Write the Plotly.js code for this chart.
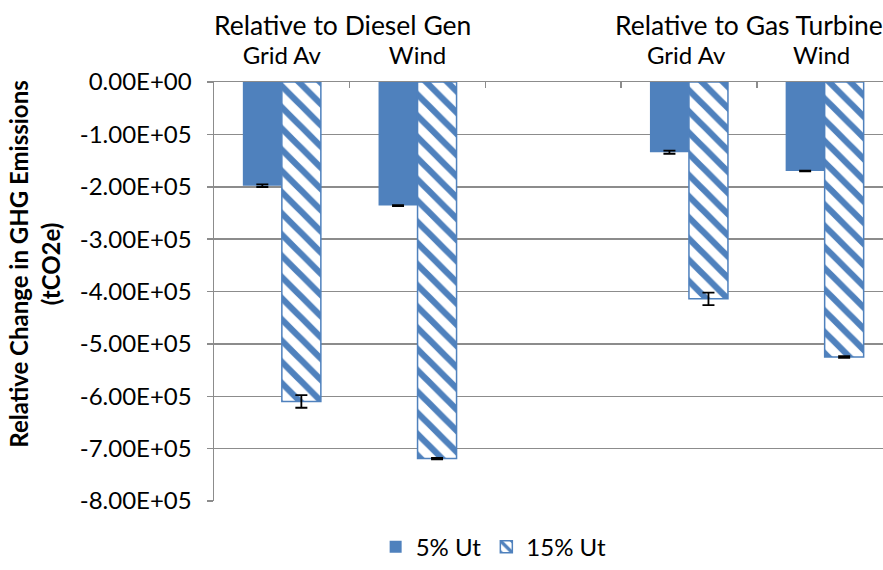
<!DOCTYPE html>
<html>
<head>
<meta charset="utf-8">
<script src="https://cdn.plot.ly/plotly-3.0.1.min.js"></script>
<style>html,body{margin:0;padding:0;background:#fff;}#chart{width:883px;height:570px;}</style>
</head>
<body>
<div id="chart"></div>
<script>
// Categories (trailing spaces keep repeated labels distinct; " " is the empty gap slot)
const categories = ["Grid Av", "Wind", " ", "Grid Av ", "Wind "];
const groupLabels = ["Relative to Diesel Gen", "Relative to Gas Turbine"];
const groupCenters = [0.445, 3.445];

const ut5 = [-198000, -236000, null, -134000, -170000];
const ut5Err = [2500, 800, null, 3000, 800];
const ut15 = [-610000, -719000, null, -414000, -525000];
const ut15Err = [12000, 1500, null, 12000, 1500];

const seriesNames = ["5% Ut", "15% Ut"];
const yTitle = "<b>Relative Change in GHG Emissions</b><br><b>(tCO2e)</b>";

const yTickVals = [0, -100000, -200000, -300000, -400000, -500000, -600000, -700000, -800000];
const yTickText = ["0.00E+00", "-1.00E+05", "-2.00E+05", "-3.00E+05", "-4.00E+05", "-5.00E+05", "-6.00E+05", "-7.00E+05", "-8.00E+05"];

const BLUE = "#4F81BD";
const GRID = "#8C8C8C";
const FONT = "Lato, Carlito, Calibri, sans-serif";

const traces = [
  {
    type: "bar", name: seriesNames[0], x: categories, y: ut5,
    marker: { color: BLUE, line: { color: BLUE, width: 0 } },
    error_y: { type: "data", array: ut5Err, visible: true, color: "#000", thickness: 1.8, width: 6 }
  },
  {
    type: "bar", name: seriesNames[1], x: categories, y: ut15,
    marker: {
      color: "#ffffff",
      line: { color: BLUE, width: 1.5 },
      pattern: { shape: "\\", fgcolor: BLUE, bgcolor: "#ffffff", fgopacity: 1, size: 15, solidity: 0.42, fillmode: "replace" }
    },
    error_y: { type: "data", array: ut15Err, visible: true, color: "#000", thickness: 1.8, width: 6 }
  }
];

const annotations = groupLabels.map((t, i) => ({
  text: t, x: groupCenters[i], xref: "x", y: 1.137, yref: "paper",
  xanchor: "center", yanchor: "middle", showarrow: false,
  font: { family: FONT, size: 26.5, color: "#000" }
}));
annotations.push({
  text: yTitle, textangle: -90, x: -0.269, xref: "paper", y: 0.564, yref: "paper",
  xanchor: "center", yanchor: "middle", showarrow: false,
  font: { family: FONT, size: 24, color: "#000" }
});

const layout = {
  width: 883, height: 570,
  margin: { l: 214, r: 0, t: 82, b: 61 },
  paper_bgcolor: "#fff", plot_bgcolor: "#fff",
  font: { family: FONT, size: 24, color: "#000" },
  barmode: "group", bargap: 0.425, bargroupgap: 0,
  showlegend: true,
  legend: {
    orientation: "h", x: 0.418, xanchor: "center", y: -0.11, yanchor: "middle",
    font: { family: FONT, size: 24, color: "#000" }, traceorder: "normal"
  },
  xaxis: {
    type: "category", side: "top", categoryorder: "array", categoryarray: categories,
    range: [-0.5, 4.43], fixedrange: true,
    showgrid: false, zeroline: false,
    showline: true, linecolor: GRID, linewidth: 1.5,
    ticks: "inside", tickson: "boundaries", ticklen: 6, tickcolor: GRID, tickwidth: 1.5,
    ticklabelstandoff: 7,
    tickfont: { family: FONT, size: 24, color: "#000" }
  },
  yaxis: {
    range: [-800000, 0], fixedrange: true,
    tickmode: "array", tickvals: yTickVals, ticktext: yTickText,
    showgrid: true, gridcolor: GRID, gridwidth: 1.5,
    zeroline: false, showline: true, linecolor: GRID, linewidth: 1.5,
    ticks: "outside", ticklen: 6, tickcolor: GRID, tickwidth: 1.5,
    ticklabelstandoff: 10,
    tickfont: { family: FONT, size: 24, color: "#000" }
  },
  annotations: annotations
};

Plotly.newPlot("chart", traces, layout, { displayModeBar: false, staticPlot: true });
</script>
</body>
</html>
